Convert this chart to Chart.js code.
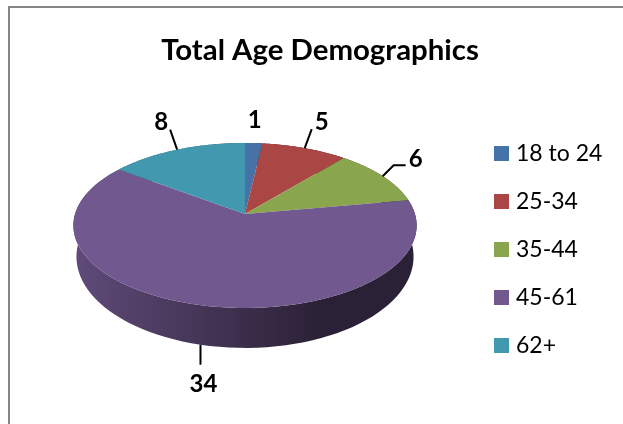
<!DOCTYPE html>
<html>
<head>
<meta charset="utf-8">
<script src="https://cdn.jsdelivr.net/npm/chart.js@4"></script>
<style>
  html, body { margin: 0; background: #fff; overflow: hidden; }
  #frame { position: absolute; left: 8px; top: 6px; width: 640px; height: 440px;
           border-top: 2px solid #868686; border-left: 2px solid #868686; }
  #box { position: absolute; left: 0; top: 0; width: 623px; height: 424px; }
</style>
</head>
<body>
<div id="frame"></div>
<div id="box"><canvas id="myChart"></canvas></div>
<script>
var categories = ["18 to 24", "25-34", "35-44", "45-61", "62+"];
var values = [1, 5, 6, 34, 8];
var colors = ["#4572A7", "#AA4643", "#89A54E", "#71588F", "#4198AF"];

// perspective of the tilted pie, the top face is a circle seen through this
var view = { cx: 245, cy: 214, bx: 170, by: 80.9, k: -0.139, drop: 30, lowerX: 0.982, lowerY: 1.106 };

function rim(angle, lower) {
  var u = Math.cos(angle), v = Math.sin(angle);
  var w = 1 + view.k * v;
  return {
    x: view.cx + (lower ? view.lowerX : 1) * view.bx * u / w,
    y: view.cy + (lower ? view.lowerY : 1) * view.by * v / w + (lower ? view.drop : 0)
  };
}

function shade(hex, f) {
  var n = parseInt(hex.slice(1), 16);
  return "rgb(" + Math.round((n >> 16) * f) + "," + Math.round(((n >> 8) & 255) * f) + "," + Math.round((n & 255) * f) + ")";
}

// leader line and label offsets from the rim point in the middle of a slice
var labelSpots = [
  { line: [], text: [1, -24] },
  { line: [[7, -19]], text: [17, -27] },
  { line: [[11, -11], [23, -11]], text: [33, -18] },
  { line: [[0, 20]], text: [3, 39] },
  { line: [[-7, -20]], text: [-16, -28] }
];

var pie3d = {
  id: "pie3d",
  beforeDatasetsDraw: function (chart) {
    var ctx = chart.ctx;
    var arcs = chart.getDatasetMeta(0).data;
    var i, a, n, s;

    // side wall
    arcs.forEach(function (arc, idx) {
      var g = ctx.createLinearGradient(76, 0, 320, 0);
      g.addColorStop(0, shade(colors[idx], 0.84));
      g.addColorStop(1, shade(colors[idx], 0.38));
      ctx.fillStyle = g;
      ctx.beginPath();
      n = 80;
      for (i = 0; i <= n; i++) {
        a = arc.startAngle + (arc.endAngle - arc.startAngle) * i / n;
        s = rim(a, false);
        ctx.lineTo(s.x, s.y);
      }
      for (i = n; i >= 0; i--) {
        a = arc.startAngle + (arc.endAngle - arc.startAngle) * i / n;
        s = rim(a, true);
        ctx.lineTo(s.x, s.y);
      }
      ctx.closePath();
      ctx.fill();
    });

    // top face
    arcs.forEach(function (arc, idx) {
      ctx.fillStyle = colors[idx];
      ctx.beginPath();
      ctx.moveTo(view.cx, view.cy);
      n = 80;
      for (i = 0; i <= n; i++) {
        a = arc.startAngle + (arc.endAngle - arc.startAngle) * i / n;
        s = rim(a, false);
        ctx.lineTo(s.x, s.y);
      }
      ctx.closePath();
      ctx.fill();
    });

    // value labels
    ctx.font = "bold 24px Lato";
    ctx.textAlign = "center";
    ctx.textBaseline = "middle";
    arcs.forEach(function (arc, idx) {
      var mid = (arc.startAngle + arc.endAngle) / 2;
      var front = Math.sin(mid) > 0.5;
      var p = rim(mid, front);
      var spot = labelSpots[idx];
      if (spot.line.length) {
        ctx.strokeStyle = "#000";
        ctx.lineWidth = 2;
        ctx.beginPath();
        ctx.moveTo(p.x, p.y);
        spot.line.forEach(function (o) { ctx.lineTo(p.x + o[0], p.y + o[1]); });
        ctx.stroke();
      }
      ctx.fillStyle = "#000";
      ctx.fillText(String(values[idx]), p.x + spot.text[0], p.y + spot.text[1] + 1);
    });

    // legend
    ctx.font = "23px Lato";
    ctx.textAlign = "left";
    categories.forEach(function (name, idx) {
      var y = 146 + idx * 48;
      ctx.fillStyle = colors[idx];
      ctx.fillRect(494, y, 15, 15);
      ctx.fillStyle = "#000";
      ctx.fillText(name, 516, y + 8);
    });
    return false;
  }
};

var ctx = document.getElementById("myChart").getContext("2d");
var myChart = new Chart(ctx, {
  type: "pie",
  data: {
    labels: categories,
    datasets: [{ data: values, backgroundColor: colors, borderWidth: 0 }]
  },
  options: {
    responsive: true,
    maintainAspectRatio: false,
    animation: false,
    layout: { padding: { left: 17 } },
    plugins: {
      legend: { display: false },
      tooltip: { enabled: false },
      title: {
        display: true,
        text: "Total Age Demographics",
        color: "#000",
        font: { family: "Lato", size: 29.4, weight: "bold" },
        padding: { top: 33, bottom: 10 }
      }
    }
  },
  plugins: [pie3d]
});
</script>
</body>
</html>
